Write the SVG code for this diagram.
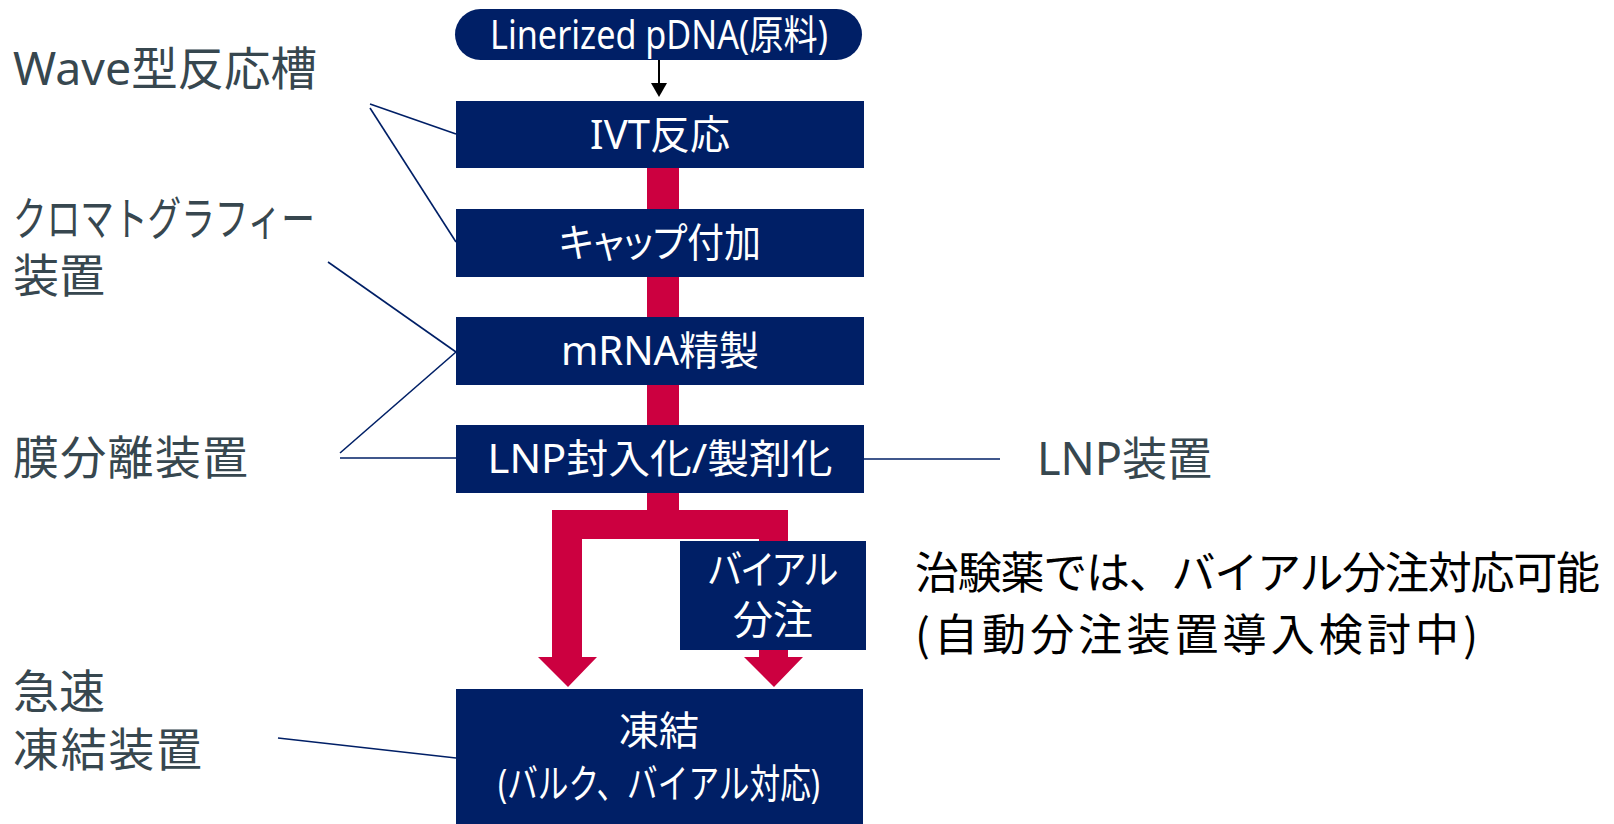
<svg xmlns="http://www.w3.org/2000/svg" width="1614" height="824" viewBox="0 0 1614 824">
<defs>
<style>
.box{fill:#001F66;}
.bt{fill:#FFFFFF;font-family:"Noto Sans","Noto Sans CJK JP",sans-serif;font-size:40px;text-anchor:middle;}
.palt{font-feature-settings:"palt";}
.lbl{fill:#37474F;font-family:"Noto Sans","Noto Sans CJK JP",sans-serif;font-size:46px;}
.note{fill:#000000;font-family:"Noto Sans CJK JP",sans-serif;font-size:44px;}
.ln{stroke:#001F66;stroke-width:1.6;fill:none;}
</style>
</defs>
<rect width="1614" height="824" fill="#FFFFFF"/>
<g id="connectors">
<path id="flow" d="M647,160 L647,510 L552,510 L552,657 L538,657 L568,687 L597,657 L582,657 L582,539 L759,539 L759,657 L744,657 L774,687 L803,657 L788,657 L788,510 L679,510 L679,160 Z" fill="#CC0040"/>
<line x1="659" y1="60" x2="659" y2="86" stroke="#000" stroke-width="2"/>
<polygon points="651,83 667,83 659,97" fill="#000"/>
<line class="ln" x1="370" y1="104" x2="456" y2="134"/>
<line class="ln" x1="370" y1="108" x2="456" y2="242"/>
<line class="ln" x1="328" y1="262" x2="456" y2="352"/>
<line class="ln" x1="340" y1="453" x2="456" y2="352"/>
<line class="ln" x1="340" y1="458" x2="456" y2="458"/>
<line class="ln" x1="864" y1="459" x2="1000" y2="459"/>
<line class="ln" x1="278" y1="738" x2="456" y2="758"/>
</g>
<g id="n-pdna">
<rect class="box" x="455" y="9" width="407" height="51" rx="25.5"/>
<text class="bt" x="659" y="49" font-size="33" textLength="338" lengthAdjust="spacingAndGlyphs">Linerized pDNA(原料)</text>
</g>
<g id="n-ivt">
<rect class="box" x="456" y="101" width="408" height="67"/>
<text class="bt" x="660" y="149">IVT反応</text>
</g>
<g id="n-cap">
<rect class="box" x="456" y="209" width="408" height="68"/>
<text class="bt palt" x="660" y="257" textLength="202" lengthAdjust="spacingAndGlyphs">キャップ付加</text>
</g>
<g id="n-mrna">
<rect class="box" x="456" y="317" width="408" height="68"/>
<text class="bt" x="660" y="365">mRNA精製</text>
</g>
<g id="n-lnp">
<rect class="box" x="456" y="425" width="408" height="68"/>
<text class="bt" x="660" y="473" textLength="345" lengthAdjust="spacingAndGlyphs">LNP封入化/製剤化</text>
</g>
<g id="n-vial">
<rect class="box" x="680" y="541" width="186" height="109"/>
<text class="bt palt" x="773" y="584" textLength="130" lengthAdjust="spacingAndGlyphs">バイアル</text>
<text class="bt" x="773" y="634">分注</text>
</g>
<g id="n-freeze">
<rect class="box" x="456" y="689" width="407" height="140"/>
<text class="bt" x="659" y="745">凍結</text>
<text class="bt" x="659" y="798" font-size="31" textLength="322" lengthAdjust="spacingAndGlyphs">(バルク、バイアル対応)</text>
</g>
<g id="labels">
<text class="lbl" x="13" y="85" textLength="304" lengthAdjust="spacingAndGlyphs">Wave型反応槽</text>
<text class="lbl" x="13" y="235" textLength="302" lengthAdjust="spacingAndGlyphs">クロマトグラフィー</text>
<text class="lbl" x="13" y="292">装置</text>
<text class="lbl" x="13" y="474" textLength="235">膜分離装置</text>
<text class="lbl" x="13" y="708">急速</text>
<text class="lbl" x="13" y="766" textLength="189">凍結装置</text>
<text class="lbl" x="1037" y="475" textLength="175" lengthAdjust="spacingAndGlyphs">LNP装置</text>
<text class="note" x="915" y="589" textLength="685">治験薬では、バイアル分注対応可能</text>
<text class="note" x="915" y="651" textLength="563">(自動分注装置導入検討中)</text>
</g>
</svg>
